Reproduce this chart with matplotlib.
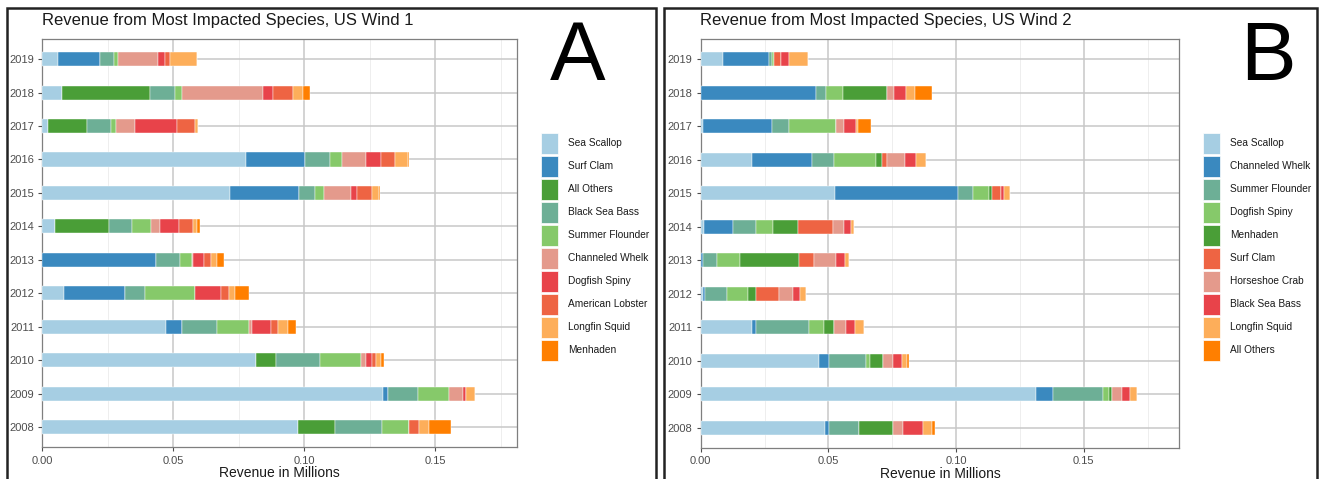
import matplotlib
matplotlib.use("Agg")
import matplotlib.pyplot as plt
from matplotlib.patches import Rectangle
import numpy as np

years = [2008, 2009, 2010, 2011, 2012, 2013, 2014, 2015, 2016, 2017, 2018, 2019]

# ---------------- Panel A : US Wind 1 ----------------
species_a = ["Sea Scallop", "Surf Clam", "All Others", "Black Sea Bass", "Summer Flounder",
             "Channeled Whelk", "Dogfish Spiny", "American Lobster", "Longfin Squid", "Menhaden"]
a_sea_scallop = [0.0976, 0.1302, 0.0817, 0.0471, 0.0084, 0.0, 0.0048, 0.0715, 0.0777, 0.0021, 0.0076, 0.0059]
a_surf_clam = [0.0, 0.0019, 0.0, 0.0063, 0.0233, 0.0436, 0.0, 0.0264, 0.0225, 0.0, 0.0, 0.0161]
a_all_others = [0.0143, 0.0, 0.0077, 0.0, 0.0, 0.0, 0.0206, 0.0, 0.0, 0.0150, 0.0334, 0.0]
a_black_sea_bass = [0.0177, 0.0113, 0.0167, 0.0132, 0.0077, 0.0088, 0.0087, 0.0063, 0.0095, 0.0093, 0.0098, 0.0055]
a_summer_flounder = [0.0105, 0.0119, 0.0158, 0.0125, 0.0188, 0.0047, 0.0076, 0.0035, 0.0047, 0.0018, 0.0026, 0.0016]
a_channeled_whelk = [0.0, 0.0055, 0.0016, 0.0008, 0.0, 0.0003, 0.0034, 0.0101, 0.0093, 0.0072, 0.0307, 0.0151]
a_dogfish_spiny = [0.0, 0.0011, 0.0023, 0.0074, 0.0101, 0.0045, 0.0071, 0.0023, 0.0056, 0.0161, 0.0039, 0.0027]
a_american_lobster = [0.0037, 0.0, 0.0018, 0.0029, 0.0029, 0.0027, 0.0053, 0.0059, 0.0055, 0.0068, 0.0077, 0.0019]
a_longfin_squid = [0.0039, 0.0032, 0.0019, 0.0037, 0.0023, 0.0023, 0.0014, 0.0026, 0.0048, 0.0010, 0.0040, 0.0101]
a_menhaden = [0.0082, 0.0, 0.0011, 0.0031, 0.0056, 0.0024, 0.0013, 0.0005, 0.0006, 0.0, 0.0027, 0.0]

# ---------------- Panel B : US Wind 2 ----------------
species_b = ["Sea Scallop", "Channeled Whelk", "Summer Flounder", "Dogfish Spiny", "Menhaden",
             "Surf Clam", "Horseshoe Crab", "Black Sea Bass", "Longfin Squid", "All Others"]
b_sea_scallop = [0.0487, 0.1314, 0.0463, 0.0199, 0.0010, 0.0, 0.0012, 0.0527, 0.0199, 0.0010, 0.0, 0.0088]
b_channeled_whelk = [0.0015, 0.0066, 0.0040, 0.0018, 0.0008, 0.0010, 0.0113, 0.0480, 0.0236, 0.0271, 0.0450, 0.0178]
b_summer_flounder = [0.0116, 0.0194, 0.0143, 0.0208, 0.0086, 0.0055, 0.0093, 0.0058, 0.0085, 0.0063, 0.0040, 0.0013]
b_dogfish_spiny = [0.0, 0.0025, 0.0015, 0.0056, 0.0081, 0.0090, 0.0066, 0.0065, 0.0168, 0.0186, 0.0066, 0.0008]
b_menhaden = [0.0136, 0.0012, 0.0051, 0.0040, 0.0030, 0.0229, 0.0098, 0.0012, 0.0023, 0.0, 0.0173, 0.0]
b_surf_clam = [0.0, 0.0, 0.0, 0.0, 0.0090, 0.0058, 0.0136, 0.0032, 0.0017, 0.0, 0.0, 0.0028]
b_horseshoe_crab = [0.0040, 0.0038, 0.0042, 0.0047, 0.0056, 0.0086, 0.0042, 0.0, 0.0073, 0.0033, 0.0028, 0.0]
b_black_sea_bass = [0.0076, 0.0033, 0.0035, 0.0035, 0.0028, 0.0037, 0.0028, 0.0015, 0.0043, 0.0047, 0.0045, 0.0032]
b_longfin_squid = [0.0035, 0.0027, 0.0017, 0.0037, 0.0022, 0.0015, 0.0013, 0.0022, 0.0038, 0.0007, 0.0037, 0.0073]
b_all_others = [0.0012, 0.0, 0.0008, 0.0, 0.0, 0.0, 0.0, 0.0, 0.0, 0.0048, 0.0065, 0.0]

palette_a = ["#A6CEE3", "#3A89BF", "#4A9E37", "#6DAF96", "#86C96A",
             "#E49A8C", "#E8434A", "#EE6443", "#FDAE5A", "#FF7F00"]
palette_b = ["#A6CEE3", "#3A89BF", "#6DAF96", "#86C96A", "#4A9E37",
             "#EE6443", "#E49A8C", "#E8434A", "#FDAE5A", "#FF7F00"]

series_a = [a_sea_scallop, a_surf_clam, a_all_others, a_black_sea_bass, a_summer_flounder,
            a_channeled_whelk, a_dogfish_spiny, a_american_lobster, a_longfin_squid, a_menhaden]
series_b = [b_sea_scallop, b_channeled_whelk, b_summer_flounder, b_dogfish_spiny, b_menhaden,
            b_surf_clam, b_horseshoe_crab, b_black_sea_bass, b_longfin_squid, b_all_others]

plt.rcParams["font.family"] = ["Liberation Sans", "DejaVu Sans"]

W, H = 1323, 479
fig = plt.figure(figsize=(W / 100, H / 100), dpi=100)


def px_axes(l, r, t, b):
    return fig.add_axes([l / W, 1 - b / H, (r - l) / W, (b - t) / H])


def draw_panel(ax, series, names, colors, xmax, title, letter, leg_x, frame_l, frame_r,
               title_x, letter_x):
    ypos = np.arange(len(years))
    left = np.zeros(len(years))
    for vals, nm, col in zip(series, names, colors):
        v = np.array(vals)
        ax.barh(ypos, v, left=left, height=0.42, color=col, edgecolor="white",
                linewidth=0.3, label=nm, zorder=3)
        left += v
    ax.set_xlim(0, xmax)
    ax.set_ylim(-0.6, len(years) - 0.4)
    ax.set_yticks(ypos)
    ax.set_yticklabels([str(y) for y in years])
    ax.set_xticks([0.0, 0.05, 0.10, 0.15])
    ax.set_xticklabels(["0.00", "0.05", "0.10", "0.15"])
    ax.set_xticks([0.025, 0.075, 0.125, 0.175], minor=True)
    ax.grid(axis="x", which="major", color="#C8C8C8", linewidth=1.1, zorder=0)
    ax.grid(axis="x", which="minor", color="#EBEBEB", linewidth=0.6, zorder=0)
    ax.grid(axis="y", which="major", color="#C8C8C8", linewidth=1.1, zorder=0)
    ax.tick_params(axis="both", which="major", colors="#4D4D4D", labelsize=8,
                   length=3, width=0.8, labelcolor="#4D4D4D", pad=3)
    ax.tick_params(axis="both", which="minor", length=0)
    for s in ax.spines.values():
        s.set_color("#7F7F7F")
        s.set_linewidth(0.9)
    ax.set_xlabel("Revenue in Millions", fontsize=10, color="#1A1A1A", labelpad=0.5)
    fig.text(title_x / W, 1 - 20 / H, title, fontsize=12, color="#1A1A1A",
             ha="left", va="center")
    fig.text(letter_x / W, 1 - 58 / H, letter, fontsize=60, color="black",
             ha="center", va="center")
    # legend drawn as keys + labels
    for i, (nm, col) in enumerate(zip(names, colors)):
        cy = 143 + 23 * i
        fig.patches.append(Rectangle((leg_x / W, 1 - (cy + 10.5) / H), 17 / W, 21 / H,
                                     transform=fig.transFigure, facecolor=col,
                                     edgecolor="white", linewidth=0.5))
        fig.text((leg_x + 27) / W, 1 - cy / H, nm, fontsize=7.3, color="#1A1A1A",
                 ha="left", va="center")
    # outer frame
    fig.patches.append(Rectangle((frame_l / W, -0.05), (frame_r - frame_l) / W,
                                 (1 - 8 / H) + 0.05, transform=fig.transFigure,
                                 fill=False, edgecolor="#222222", linewidth=1.8))


axA = px_axes(42.3, 517.3, 39, 447.3)
draw_panel(axA, series_a, species_a, palette_a, 0.1814,
           "Revenue from Most Impacted Species, US Wind 1", "A", 541, 7, 656, 42, 578)

axB = px_axes(700.7, 1179.3, 39, 448)
draw_panel(axB, series_b, species_b, palette_b, 0.1874,
           "Revenue from Most Impacted Species, US Wind 2", "B", 1203, 664, 1317, 700, 1268)

fig.savefig("out.png", dpi=100)
